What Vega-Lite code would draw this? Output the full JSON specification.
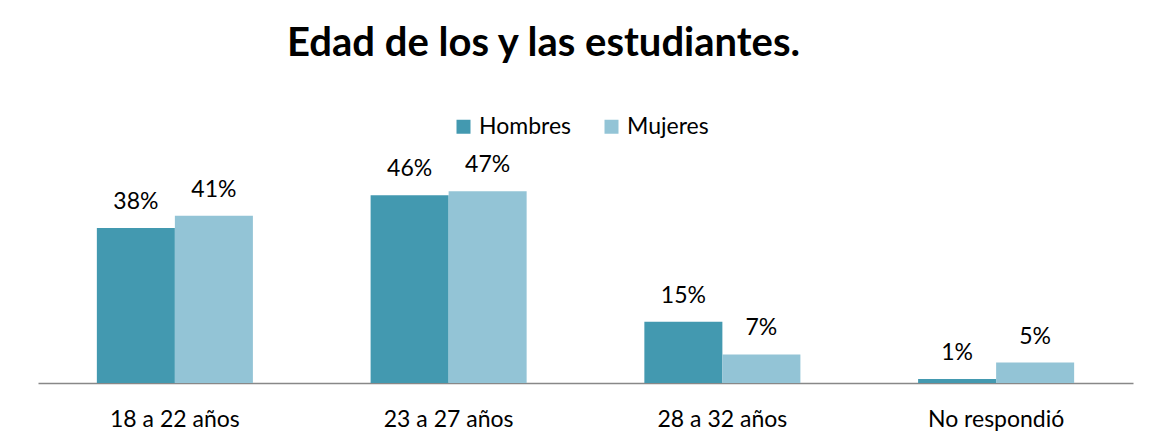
{
  "$schema": "https://vega.github.io/schema/vega-lite/v6.json",
  "width": 1095,
  "height": 204,
  "padding": {"left": 38, "top": 24, "right": 25, "bottom": 5},
  "autosize": {"type": "pad"},
  "background": "white",
  "config": {"view": {"stroke": null}},
  "title": {
    "text": "Edad de los y las estudiantes.",
    "font": "Lato",
    "fontSize": 40,
    "fontWeight": "bold",
    "color": "black",
    "anchor": "middle",
    "dx": -42,
    "offset": 51
  },
  "data": {
    "values": [
      {"cat": "18 a 22 años", "sexo": "Hombres", "val": 0.38},
      {"cat": "18 a 22 años", "sexo": "Mujeres", "val": 0.41},
      {"cat": "23 a 27 años", "sexo": "Hombres", "val": 0.46},
      {"cat": "23 a 27 años", "sexo": "Mujeres", "val": 0.47},
      {"cat": "28 a 32 años", "sexo": "Hombres", "val": 0.15},
      {"cat": "28 a 32 años", "sexo": "Mujeres", "val": 0.07},
      {"cat": "No respondió", "sexo": "Hombres", "val": 0.01},
      {"cat": "No respondió", "sexo": "Mujeres", "val": 0.05}
    ]
  },
  "encoding": {
    "x": {
      "field": "cat",
      "type": "nominal",
      "sort": ["18 a 22 años", "23 a 27 años", "28 a 32 años", "No respondió"],
      "scale": {"paddingInner": 0.43, "paddingOuter": 0.215},
      "axis": {
        "title": null,
        "labelAngle": 0,
        "labelFont": "Lato",
        "labelFontSize": 23,
        "labelColor": "black",
        "labelBaseline": "alphabetic",
        "labelPadding": 43,
        "ticks": false,
        "grid": false,
        "domainColor": "#888888",
        "domainWidth": 1.5
      }
    },
    "xOffset": {
      "field": "sexo",
      "type": "nominal",
      "sort": ["Hombres", "Mujeres"],
      "scale": {"paddingInner": 0, "paddingOuter": 0}
    },
    "y": {
      "field": "val",
      "type": "quantitative",
      "scale": {"domain": [0, 0.5]},
      "axis": null
    }
  },
  "layer": [
    {
      "mark": {"type": "bar"},
      "encoding": {
        "color": {
          "field": "sexo",
          "type": "nominal",
          "sort": ["Hombres", "Mujeres"],
          "scale": {"domain": ["Hombres", "Mujeres"], "range": ["#4399B0", "#93C4D6"]},
          "legend": {
            "title": null,
            "orient": "none",
            "legendX": 414,
            "legendY": -64,
            "direction": "horizontal",
            "symbolType": "square",
            "symbolSize": 196,
            "symbolStrokeWidth": 0,
            "labelFont": "Lato",
            "labelFontSize": 23,
            "labelColor": "black",
            "labelOffset": 4,
            "columnPadding": 28
          }
        }
      }
    },
    {
      "mark": {"type": "text", "baseline": "alphabetic", "dy": -19, "font": "Lato", "fontSize": 23, "color": "black"},
      "encoding": {
        "text": {"field": "val", "type": "quantitative", "format": ".0%"}
      }
    }
  ]
}
